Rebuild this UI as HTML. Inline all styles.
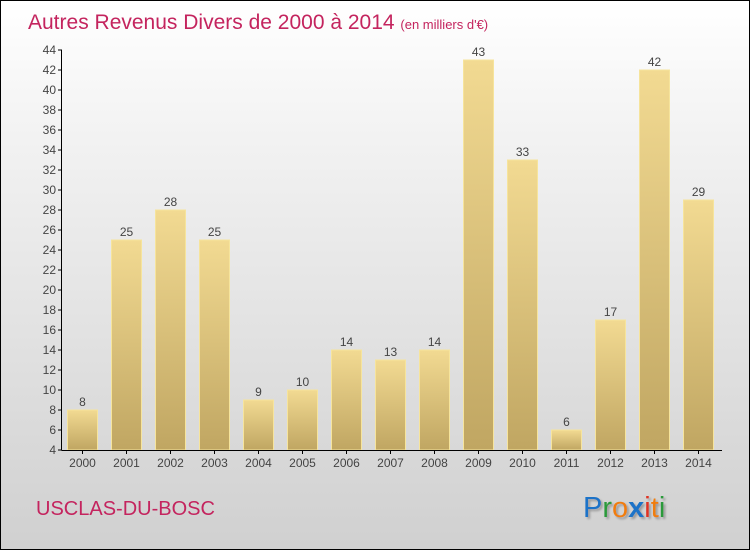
<!DOCTYPE html>
<html><head><meta charset="utf-8"><style>
body{margin:0}
#c{position:relative;width:748px;height:548px;border:1px solid #000;background:linear-gradient(#ffffff,#f2f2f2 25%,#d0d0d0);overflow:hidden;font-family:"Liberation Sans",sans-serif}
</style></head><body>
<div id="c">
<svg width="748" height="548" id="svg">
<defs>
<linearGradient id="bg" x1="0" y1="0" x2="0" y2="1"><stop offset="0" stop-color="#f2da92"/><stop offset="1" stop-color="#c0a662"/></linearGradient>
<filter id="sh"><feDropShadow dx="2" dy="2" stdDeviation="1" flood-color="#999"/></filter>
</defs>
<text x="27" y="28" font-size="21" fill="#c4245e">Autres Revenus Divers de 2000 à 2014 <tspan font-size="13">(en milliers d'€)</tspan></text>
<text x="35" y="514" font-size="20" fill="#c4245e">USCLAS-DU-BOSC</text>
<g font-size="29" font-family="Liberation Sans, sans-serif" filter="url(#sh)">
<text x="582" y="516"><tspan fill="#1a73c8">P</tspan><tspan fill="#2a9a3a">r</tspan><tspan fill="#f07d10">o</tspan><tspan fill="#1a73c8" font-weight="bold">x</tspan><tspan fill="#e03020">i</tspan><tspan fill="#f07d10">t</tspan><tspan fill="#2a9a3a">i</tspan></text>
</g>
<g id="plot"></g>
</svg>
</div>
<script>
const categories=["2000","2001","2002","2003","2004","2005","2006","2007","2008","2009","2010","2011","2012","2013","2014"];
const values=[8,25,28,25,9,10,14,13,14,43,33,6,17,42,29];
const yTicks=[4,6,8,10,12,14,16,18,20,22,24,26,28,30,32,34,36,38,40,42,44];
const NS="http://www.w3.org/2000/svg";
const g=document.getElementById('plot');
function y(v){return 449-(v-4)*10;}
function x(i){return 81.5+44*i;}
function mk(t,a){const e=document.createElementNS(NS,t);for(const k in a)e.setAttribute(k,a[k]);g.appendChild(e);return e;}
values.forEach((v,i)=>{
 const r=mk('rect',{x:x(i)-15,y:y(v),width:30,height:y(4)-y(v),fill:'url(#bg)',stroke:'#f6e49c','stroke-width':1});
 
 
 const t=mk('text',{x:x(i),y:y(v)-4,'text-anchor':'middle','font-size':12,fill:'#444'});
 t.textContent=v;
 
 
 const c=mk('text',{x:x(i),y:466,'text-anchor':'middle','font-size':12,fill:'#444'});
 c.textContent=categories[i];
 
 
 const tk=mk('line',{x1:x(i),x2:x(i),y1:449,y2:453,stroke:'#000'});
 
 
});
yTicks.forEach(v=>{
 const l=mk('line',{x1:57,x2:61,y1:y(v),y2:y(v),stroke:'#000'});
 
 
 const t=mk('text',{x:55,y:y(v)+4,'text-anchor':'end','font-size':12,fill:'#444'});
 t.textContent=v;
 
 
});
const ya=mk('line',{x1:60.5,x2:60.5,y1:y(44),y2:449.5,stroke:'#000'});


const xa=mk('line',{x1:60.5,x2:721,y1:449.5,y2:449.5,stroke:'#000'});


</script>
</body></html>
